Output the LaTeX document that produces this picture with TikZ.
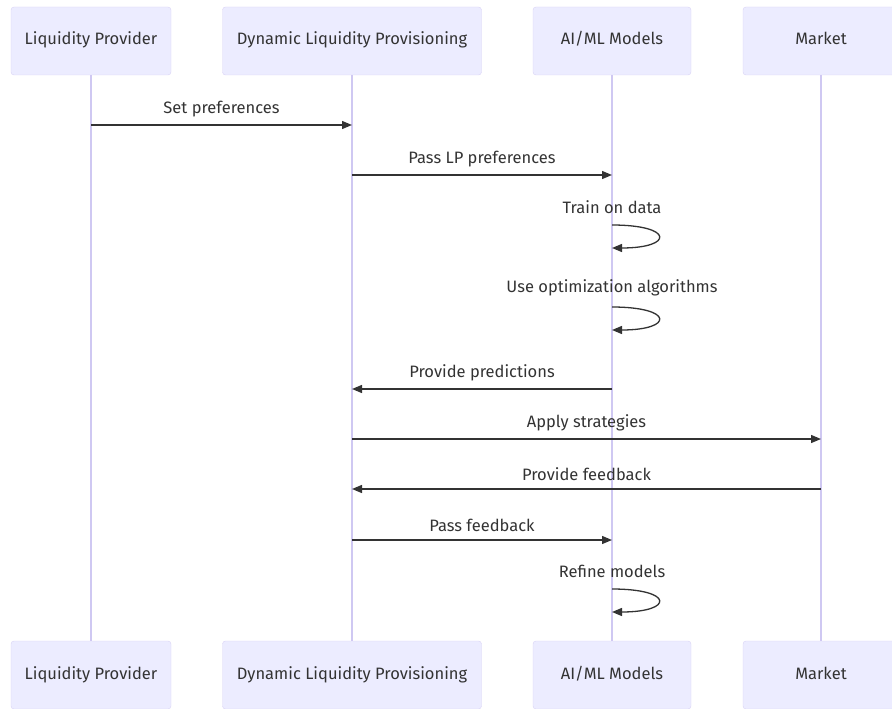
\documentclass[tikz,border=0pt]{standalone}
\usepackage{fontspec}
\setmainfont{Fira Sans}
\usepackage{xcolor}
\usepackage{tikz}
\usetikzlibrary{positioning,calc,arrows.meta}
\definecolor{actorfill}{HTML}{ECECFF}
\definecolor{actorline}{HTML}{D9D2F5}
\definecolor{lifecol}{HTML}{CFC8F2}
\definecolor{msgcol}{HTML}{333333}
\tikzstyle{actor} = [rectangle, draw=actorline, fill=actorfill, rounded corners=3pt, minimum width=156pt, minimum height=68pt, text height=12pt, text depth=4pt, font=\fontsize{16.5}{19}\selectfont, text=msgcol]
\tikzstyle{lifeline} = [draw=lifecol, line width=1.2pt]
\tikzstyle{message} = [draw=msgcol, line width=1.3pt, -{Triangle[length=10pt,width=8pt]}]
\tikzstyle{msglabel} = [font=\fontsize{16.5}{19}\selectfont, text=msgcol]

\begin{document}
\begin{tikzpicture}[x=1pt, y=-1pt]
    \useasboundingbox (0,0) rectangle (892,709);
    % Actors
    \node[actor, minimum width=160pt] (lpTop) at (91,41) {Liquidity Provider};
    \node[actor, minimum width=259pt] (dlpTop) at (352,41) {Dynamic Liquidity Provisioning};
    \node[actor, minimum width=158pt] (aiTop) at (612,41) {AI/ML Models};
    \node[actor] (mktTop) at (821,41) {Market};
    \node[actor, minimum width=160pt] (lpBot) at (91,675) {Liquidity Provider};
    \node[actor, minimum width=259pt] (dlpBot) at (352,675) {Dynamic Liquidity Provisioning};
    \node[actor, minimum width=158pt] (aiBot) at (612,675) {AI/ML Models};
    \node[actor] (mktBot) at (821,675) {Market};

    % Lifelines
    \draw[lifeline] (lpTop.south) -- (lpBot.north);
    \draw[lifeline] (dlpTop.south) -- (dlpBot.north);
    \draw[lifeline] (aiTop.south) -- (aiBot.north);
    \draw[lifeline] (mktTop.south) -- (mktBot.north);

    % Messages
    \draw[message] (lpTop |- 0,125) -- node[msglabel, above=4pt] (setPref) {Set preferences} (dlpTop |- 0,125);
    \draw[message] (dlpTop |- 0,175) -- node[msglabel, above=4pt] (passPref) {Pass LP preferences} (aiTop |- 0,175);
    \node[msglabel] (train) at (aiTop |- 0,207) {Train on data};
    \draw[message] (aiTop |- 0,225) .. controls (674,225) and (674,248) .. (aiTop |- 0,248);
    \node[msglabel] (optim) at (aiTop |- 0,288) {Use optimization algorithms};
    \draw[message] (aiTop |- 0,307) .. controls (674,307) and (674,330) .. (aiTop |- 0,330);
    \draw[message] (aiTop |- 0,389) -- node[msglabel, above=4pt] (predict) {Provide predictions} (dlpTop |- 0,389);
    \draw[message] (dlpTop |- 0,439) -- node[msglabel, above=4pt] (apply) {Apply strategies} (mktTop |- 0,439);
    \draw[message] (mktTop |- 0,489) -- node[msglabel, above=4pt] (feedback) {Provide feedback} (dlpTop |- 0,489);
    \draw[message] (dlpTop |- 0,540) -- node[msglabel, above=4pt] (passFb) {Pass feedback} (aiTop |- 0,540);
    \node[msglabel] (refine) at (aiTop |- 0,571) {Refine models};
    \draw[message] (aiTop |- 0,589) .. controls (674,589) and (674,612) .. (aiTop |- 0,612);
\end{tikzpicture}
\end{document}
